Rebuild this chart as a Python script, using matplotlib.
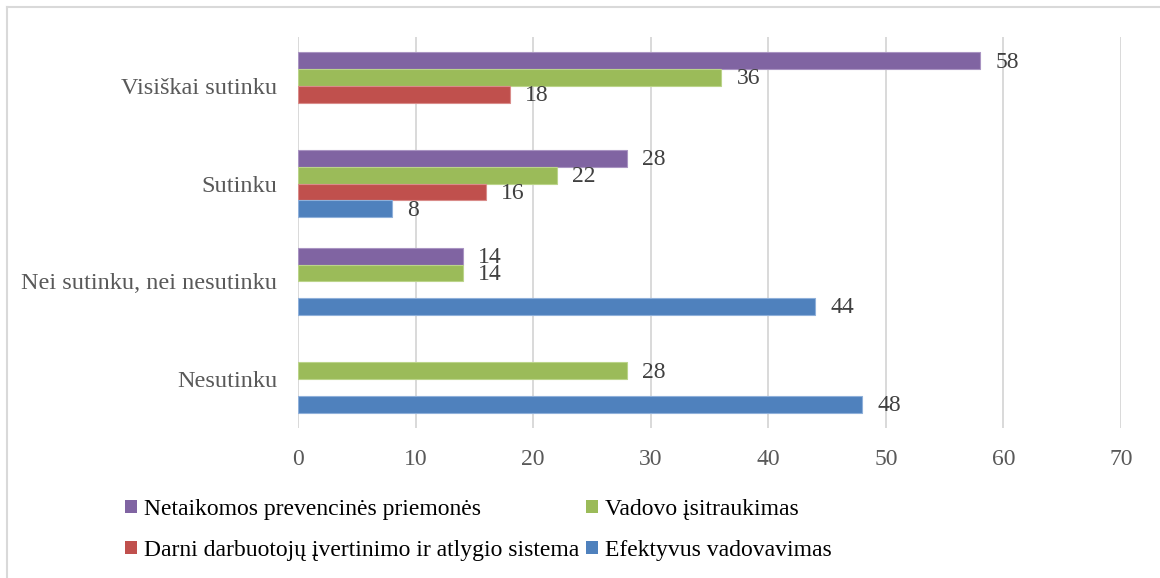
import matplotlib.pyplot as plt
import numpy as np
from matplotlib.lines import Line2D
from matplotlib.patches import Patch

plt.rcParams["font.family"] = ["Liberation Serif", "DejaVu Serif"]

categories = ["Nesutinku", "Nei sutinku, nei nesutinku", "Sutinku", "Visiškai sutinku"]

series_names = [
    "Netaikomos prevencinės priemonės",
    "Vadovo įsitraukimas",
    "Darni darbuotojų įvertinimo ir atlygio sistema",
    "Efektyvus vadovavimas",
]
# 0 = no bar drawn for that answer
netaikomos = [0, 14, 28, 58]
vadovo = [28, 14, 22, 36]
darni = [0, 0, 16, 18]
efektyvus = [48, 44, 8, 0]
values = [netaikomos, vadovo, darni, efektyvus]

colors = ["#8064A2", "#9BBB59", "#C0504D", "#4F81BD"]
edges = ["#A994C2", "#BBD48A", "#D98C8A", "#8FB0DA"]

fig = plt.figure(figsize=(11.6, 5.78), dpi=100)
ax = fig.add_axes([0.2569, 0.2595, 0.7095, 0.6765])

h = 0.172
y = np.arange(len(categories))
handles = []
for j, (name, vals) in enumerate(zip(series_names, values)):
    vals = np.array(vals)
    keep = vals > 0
    pos = (y + (1.5 - j) * h)[keep]
    bars = ax.barh(pos, vals[keep], height=h, color=colors[j], edgecolor=edges[j],
                   linewidth=0.8, zorder=3)
    for b, v in zip(bars, vals[keep]):
        ax.annotate(str(v), (v, b.get_y() + h / 2), xytext=(11, -1),
                    textcoords="offset points", va="center", ha="left",
                    fontsize=17, color="#404040")
    handles.append(Patch(facecolor=colors[j], edgecolor="none", label=name))

ax.set_xlim(0, 70)
ax.set_ylim(-0.5, 3.5)
ax.set_xticks(range(0, 71, 10))
ax.set_yticks(y)
ax.set_yticklabels(categories)
ax.grid(axis="x", color="#D9D9D9", linewidth=1.4, zorder=0)
for s in ax.spines.values():
    s.set_visible(False)
ax.tick_params(axis="x", length=0, pad=15, labelsize=17, labelcolor="#595959")
ax.tick_params(axis="y", length=0, pad=15, labelsize=17.5, labelcolor="#595959")

order = [0, 2, 1, 3]
fig.legend([handles[i] for i in order], [series_names[i] for i in order],
           ncol=2, frameon=False, fontsize=17, loc="upper left",
           bbox_to_anchor=(125 / 1160, 1 - 499 / 578), borderpad=0,
           borderaxespad=0, handlelength=0.5, handleheight=0.5,
           handletextpad=0.3, columnspacing=0.3, labelspacing=0.85)

# outer chart border (top and left visible)
fig.add_artist(Line2D([7 / 1160, 7 / 1160], [0, 1 - 7 / 578],
                      transform=fig.transFigure, color="#D9D9D9", linewidth=1.5))
fig.add_artist(Line2D([7 / 1160, 1], [1 - 7 / 578, 1 - 7 / 578],
                      transform=fig.transFigure, color="#D9D9D9", linewidth=1.5))

fig.savefig("out.png", dpi=100)
